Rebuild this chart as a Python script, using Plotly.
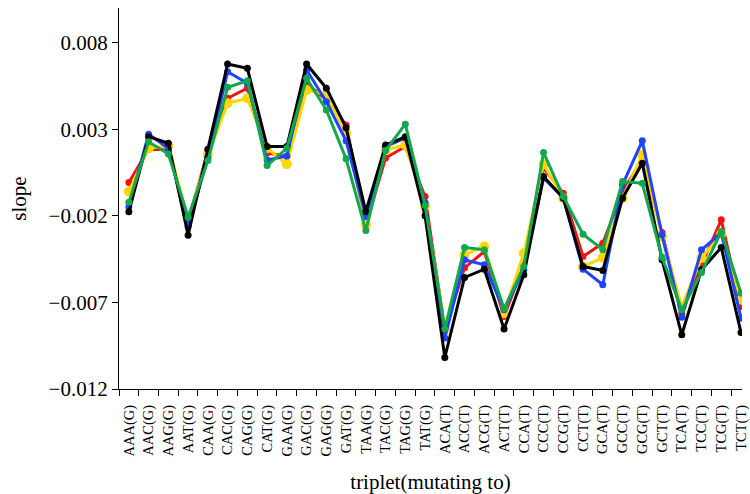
import plotly.graph_objects as go

triplets = [
    "AAA(G)", "AAC(G)", "AAG(G)", "AAT(G)", "CAA(G)", "CAC(G)", "CAG(G)", "CAT(G)",
    "GAA(G)", "GAC(G)", "GAG(G)", "GAT(G)", "TAA(G)", "TAC(G)", "TAG(G)", "TAT(G)",
    "ACA(T)", "ACC(T)", "ACG(T)", "ACT(T)", "CCA(T)", "CCC(T)", "CCG(T)", "CCT(T)",
    "GCA(T)", "GCC(T)", "GCG(T)", "GCT(T)", "TCA(T)", "TCC(T)", "TCG(T)", "TCT(T)",
]

slope_red = [
    -0.00008, 0.00185, 0.00181, -0.00233, 0.00171, 0.00479, 0.00537, 0.00163,
    0.00142, 0.00565, 0.00469, 0.00325, -0.00252, 0.00134, 0.00200, -0.00089,
    -0.00858, -0.00500, -0.00406, -0.00781, -0.00483, 0.00077, -0.00069, -0.00435,
    -0.00358, -0.00060, 0.00123, -0.00297, -0.00762, -0.00483, -0.00223, -0.00724,
]
slope_yellow = [
    -0.00060, 0.00190, 0.00205, -0.00223, 0.00152, 0.00450, 0.00479, 0.00190,
    0.00098, 0.00527, 0.00498, 0.00277, -0.00252, 0.00181, 0.00209, -0.00141,
    -0.00852, -0.00425, -0.00377, -0.00762, -0.00416, 0.00098, -0.00098, -0.00493,
    -0.00441, -0.00098, 0.00152, -0.00321, -0.00724, -0.00444, -0.00304, -0.00685,
]
slope_blue = [
    -0.00148, 0.00271, 0.00190, -0.00262, 0.00134, 0.00632, 0.00565, 0.00123,
    0.00146, 0.00642, 0.00459, 0.00233, -0.00204, 0.00200, 0.00250, -0.00125,
    -0.00906, -0.00454, -0.00483, -0.00743, -0.00512, 0.00019, -0.00096, -0.00508,
    -0.00598, -0.00021, 0.00233, -0.00310, -0.00785, -0.00396, -0.00298, -0.00791,
]
slope_black = [
    -0.00177, 0.00257, 0.00219, -0.00312, 0.00185, 0.00677, 0.00652, 0.00200,
    0.00200, 0.00677, 0.00537, 0.00309, -0.00175, 0.00209, 0.00256, -0.00200,
    -0.01018, -0.00556, -0.00508, -0.00854, -0.00541, 0.00027, -0.00098, -0.00493,
    -0.00516, -0.00098, 0.00104, -0.00454, -0.00887, -0.00512, -0.00383, -0.00874,
]
slope_green = [
    -0.00121, 0.00228, 0.00157, -0.00208, 0.00119, 0.00542, 0.00580, 0.00090,
    0.00190, 0.00594, 0.00411, 0.00129, -0.00285, 0.00177, 0.00329, -0.00141,
    -0.00852, -0.00383, -0.00396, -0.00737, -0.00493, 0.00165, -0.00089, -0.00306,
    -0.00396, -0.00002, -0.00012, -0.00439, -0.00743, -0.00527, -0.00291, -0.00646,
]

y_ticks = [-0.012, -0.007, -0.002, 0.003, 0.008]
y_tick_text = ["\u22120.012", "\u22120.007", "\u22120.002", "0.003", "0.008"]

series = [
    (slope_red, "#f01414", 7),
    (slope_yellow, "#ffd600", 10),
    (slope_blue, "#1f44ff", 7),
    (slope_black, "#000000", 7),
    (slope_green, "#12a84e", 7),
]

fig = go.Figure()
for values, color, msize in series:
    fig.add_trace(go.Scatter(
        x=triplets, y=values, mode="lines+markers",
        line=dict(color=color, width=3),
        marker=dict(color=color, size=msize),
        showlegend=False,
    ))

font_family = "Liberation Serif"
fig.update_layout(
    width=750, height=494,
    margin=dict(l=119, r=0, t=8, b=105),
    paper_bgcolor="white", plot_bgcolor="white",
    font=dict(family=font_family, color="black"),
    xaxis=dict(
        type="category", range=[-0.5, 31.05],
        showgrid=False, zeroline=False,
        showline=True, linecolor="black", linewidth=1.3,
        ticks="outside", ticklen=6, tickwidth=1.3, tickcolor="black",
        tickson="boundaries", tickangle=-90, ticklabelstandoff=9,
        tickfont=dict(family=font_family, size=14.5),
        title=dict(text="triplet(mutating to)", font=dict(family=font_family, size=21), standoff=22),
    ),
    yaxis=dict(
        range=[-0.012, 0.010],
        tickvals=y_ticks, ticktext=y_tick_text,
        showgrid=False, zeroline=False,
        showline=True, linecolor="black", linewidth=1.3,
        ticks="outside", ticklen=6, tickwidth=1.3, tickcolor="black",
        tickfont=dict(family=font_family, size=21),
        title=dict(text="slope", font=dict(family=font_family, size=21), standoff=16),
    ),
)

fig.write_html("out.html")
